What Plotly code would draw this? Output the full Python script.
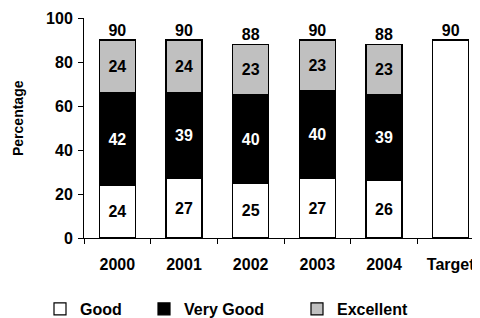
import plotly.graph_objects as go

categories = ["2000", "2001", "2002", "2003", "2004"]
good = [24, 27, 25, 27, 26]
very_good = [42, 39, 40, 40, 39]
excellent = [24, 24, 23, 23, 23]
totals = [90, 90, 88, 90, 88]
target_label = "Target"
target_value = 90
y_ticks = [0, 20, 40, 60, 80, 100]

FONT = "Arial, Liberation Sans, sans-serif"
BOLD = dict(family=FONT, size=16, color="black", weight="bold")

fig = go.Figure()
fig.add_trace(go.Bar(
    x=categories, y=good, name="Good", legend="legend",
    marker=dict(color="white", line=dict(color="black", width=1.2)),
    text=good, textposition="inside", insidetextanchor="middle",
    textfont=dict(BOLD, color="black"), constraintext="none",
))
fig.add_trace(go.Bar(
    x=categories, y=very_good, name="Very Good", legend="legend2",
    marker=dict(color="black", line=dict(color="black", width=1.2)),
    text=very_good, textposition="inside", insidetextanchor="middle",
    textfont=dict(BOLD, color="white"), constraintext="none",
))
fig.add_trace(go.Bar(
    x=categories, y=excellent, name="Excellent", legend="legend3",
    marker=dict(color="#c0c0c0", line=dict(color="black", width=1.2)),
    text=excellent, textposition="inside", insidetextanchor="middle",
    textfont=dict(BOLD, color="black"), constraintext="none",
))
fig.add_trace(go.Bar(
    x=[target_label], y=[target_value], showlegend=False,
    marker=dict(color="white", line=dict(color="black", width=1.2)),
))
fig.add_trace(go.Scatter(
    x=categories + [target_label], y=totals + [target_value],
    mode="text", text=[str(v) for v in totals + [target_value]],
    textposition="top center", textfont=BOLD, showlegend=False,
    cliponaxis=False,
))

# page body has an 8px margin, so the figure is sized to fill the rest
W, H = 472, 310
L, R, T, B = 76, 0, 10, 80

leg_common = dict(orientation="h", yanchor="middle", xanchor="left",
                  xref="container", yref="container",
                  y=1 - 301 / H, font=BOLD, bgcolor="rgba(0,0,0,0)",
                  itemwidth=30)

fig.update_layout(
    width=W, height=H,
    margin=dict(l=L, r=R, t=T, b=B, autoexpand=False),
    paper_bgcolor="white", plot_bgcolor="white",
    barmode="stack", bargap=0.46,
    font=dict(family=FONT, size=16, color="black"),
    legend=dict(leg_common, x=32 / W),
    legend2=dict(leg_common, x=136 / W),
    legend3=dict(leg_common, x=289 / W),
    xaxis=dict(
        type="category", categoryorder="array",
        categoryarray=categories + [target_label],
        range=[-0.5, 5.44], showline=True, linecolor="black", linewidth=1,
        ticks="outside", tickson="boundaries", ticklen=5, tickcolor="black",
        tickfont=BOLD, showgrid=False, zeroline=False,
        ticklabelstandoff=12,
    ),
    yaxis=dict(
        range=[0, 100], tickvals=y_ticks, showline=True, linecolor="black",
        linewidth=1, ticks="outside", ticklen=5, tickcolor="black",
        tickfont=BOLD, showgrid=False, zeroline=False,
        ticklabelstandoff=2,
    ),
    annotations=[dict(
        text="Percentage", textangle=-90, xref="paper", yref="paper",
        x=(10 - L) / (W - L - R), y=(H - B - 110) / (H - T - B),
        showarrow=False,
        font=dict(BOLD, size=14), xanchor="center", yanchor="middle",
    )],
)

fig.write_html("out.html")
